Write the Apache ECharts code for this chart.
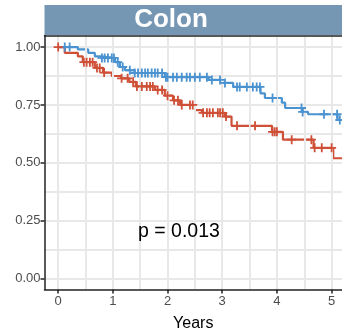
<!DOCTYPE html>
<html><head><meta charset="utf-8">
<script src="https://cdn.jsdelivr.net/npm/echarts@6/dist/echarts.min.js"></script>
<style>html,body{margin:0;padding:0;background:#fff}#c{width:342px;height:331px}</style>
</head><body><div id="c"></div>
<script>
// ---- data ----
const xTicks = [0, 1, 2, 3, 4, 5];
const xGrid = [0, 0.5, 1, 1.5, 2, 2.5, 3, 3.5, 4, 4.5, 5];
const yTicks = [0, 0.25, 0.5, 0.75, 1.0];
const yGrid = [0, 0.125, 0.25, 0.375, 0.5, 0.625, 0.75, 0.875, 1.0];
const yTickLabels = ['0.00', '0.25', '0.50', '0.75', '1.00'];
const panelTitle = 'Colon';
const xAxisTitle = 'Years';
const pText = 'p = 0.013';
const endTime = 5.3;

const redTimes = [0, 0.12, 0.36, 0.45, 0.67, 0.82, 0.98, 1.15, 1.30, 1.42, 1.77, 1.95, 2.10, 2.23, 2.50, 2.63, 3.05, 3.17, 3.91, 4.11, 4.67, 5.03];
const redSurv  = [1.00, 0.975, 0.96, 0.935, 0.91, 0.89, 0.875, 0.865, 0.85, 0.83, 0.815, 0.79, 0.77, 0.75, 0.728, 0.716, 0.70, 0.66, 0.634, 0.60, 0.565, 0.52];
const redCensor = [0.0, 0.47, 0.52, 0.58, 0.63, 0.71, 0.76, 0.84, 1.16, 1.27, 1.37, 1.44, 1.53, 1.62, 1.68, 1.73, 1.82, 1.90, 2.00, 2.12, 2.19, 2.26, 2.41, 2.46, 2.65, 2.72, 2.77, 2.83, 2.92, 2.96, 3.01, 3.07, 3.27, 3.60, 3.92, 3.96, 4.00, 4.27, 4.63, 4.69, 4.82, 5.00];

const blueTimes = [0, 0.36, 0.55, 0.67, 0.76, 1.04, 1.13, 1.22, 1.40, 1.95, 2.75, 2.99, 3.20, 3.70, 3.78, 4.09, 4.15, 4.47, 4.57, 5.11];
const blueSurv  = [1.00, 0.99, 0.975, 0.96, 0.953, 0.935, 0.914, 0.90, 0.888, 0.87, 0.858, 0.845, 0.828, 0.80, 0.78, 0.76, 0.737, 0.72, 0.71, 0.685];
const blueCensor = [0.12, 0.21, 0.80, 0.85, 0.91, 0.98, 1.02, 1.09, 1.18, 1.31, 1.40, 1.46, 1.53, 1.59, 1.64, 1.71, 1.77, 1.82, 1.90, 1.97, 2.00, 2.10, 2.17, 2.26, 2.35, 2.41, 2.50, 2.59, 2.72, 2.81, 2.96, 3.05, 3.27, 3.32, 3.45, 3.56, 3.63, 3.69, 3.92, 4.45, 4.47, 4.86, 5.10, 5.15];

// ---- helpers ----
function stepData(times, surv) {
  const d = times.map((t, i) => [t, surv[i]]);
  d.push([endTime, surv[surv.length - 1]]);
  return d;
}
function survAt(times, surv, t) {
  let s = surv[0];
  for (let i = 0; i < times.length; i++) if (times[i] <= t) s = surv[i];
  return s;
}
const RED = '#cf4f37', BLUE = '#4a92d0';
const FONT = 'Liberation Sans, Arial, sans-serif';
const plus = 'path://M4,0H6V4H10V6H6V10H4V6H0V4H4Z';

const X_MIN = -0.25, X_MAX = 5.19, Y_MIN = -0.046875, Y_MAX = 1.05;
const G = {left: 44.5, right: 0, top: 35.5, bottom: 41.5};
const GRIDC = '#e8e8e8';

const chart = echarts.init(document.getElementById('c'), null, {renderer: 'canvas'});
chart.setOption({
  backgroundColor: '#ffffff',
  animation: false,
  grid: Object.assign({containLabel: false, outerBoundsMode: 'none'}, G),
  xAxis: [{
    type: 'value', min: X_MIN, max: X_MAX, position: 'bottom', z: 5,
    axisLine: {show: true, onZero: false, lineStyle: {color: '#222', width: 1.5}},
    axisTick: {show: true, length: 4, customValues: xTicks, lineStyle: {color: '#222', width: 1.5}},
    axisLabel: {show: true, customValues: xTicks, color: '#4d4d4d', fontSize: 13, fontFamily: FONT, margin: 5},
    splitLine: {show: false},
    name: xAxisTitle, nameLocation: 'middle', nameGap: 26,
    nameTextStyle: {color: '#000', fontSize: 16, fontFamily: FONT}
  }, {
    type: 'value', min: X_MIN, max: X_MAX, position: 'top', z: 5,
    axisLine: {show: true, onZero: false, lineStyle: {color: '#222', width: 1.5}},
    axisTick: {show: false, customValues: xGrid}, axisLabel: {show: false},
    splitLine: {show: true, lineStyle: {color: GRIDC, width: 2}}
  }],
  yAxis: [{
    type: 'value', min: Y_MIN, max: Y_MAX, position: 'left', z: 5,
    axisLine: {show: true, onZero: false, lineStyle: {color: '#222', width: 1.5}},
    axisTick: {show: true, length: 4, customValues: yTicks, lineStyle: {color: '#222', width: 1.5}},
    axisLabel: {show: true, customValues: yTicks, color: '#4d4d4d', fontSize: 13, fontFamily: FONT, margin: 4,
      formatter: v => yTickLabels[yTicks.findIndex(t => Math.abs(t - v) < 1e-6)] ?? ''},
    splitLine: {show: false}
  }, {
    type: 'value', min: Y_MIN, max: Y_MAX, position: 'right',
    axisLine: {show: false}, axisTick: {show: false, customValues: yGrid}, axisLabel: {show: false},
    splitLine: {show: true, lineStyle: {color: GRIDC, width: 2}}
  }],
  series: [
    {type: 'line', step: 'end', data: stepData(blueTimes, blueSurv), showSymbol: false, clip: true,
     lineStyle: {color: BLUE, width: 2.2}, z: 3},
    {type: 'line', step: 'end', data: stepData(redTimes, redSurv), showSymbol: false, clip: true,
     lineStyle: {color: RED, width: 2.2}, z: 4},
    {type: 'scatter', data: blueCensor.map(t => [t, survAt(blueTimes, blueSurv, t)]), symbol: plus, symbolSize: 9,
     itemStyle: {color: BLUE, opacity: 1}, z: 5, clip: true},
    {type: 'scatter', data: redCensor.map(t => [t, survAt(redTimes, redSurv, t)]), symbol: plus, symbolSize: 9,
     itemStyle: {color: RED, opacity: 1}, z: 6, clip: true}
  ],
  graphic: [
    {type: 'rect', left: 44.5, top: 5, shape: {width: 298, height: 30}, style: {fill: '#7597b3'}, z: 10},
    {type: 'text', left: 'center', top: 7, style: {text: panelTitle, fill: '#fff', fontSize: 26, fontWeight: 'bold', fontFamily: FONT}, z: 11},
    {type: 'text', left: 138, top: 222, style: {text: pText, fill: '#000', fontSize: 19.5, fontFamily: FONT}, z: 11}
  ]
});
</script></body></html>
